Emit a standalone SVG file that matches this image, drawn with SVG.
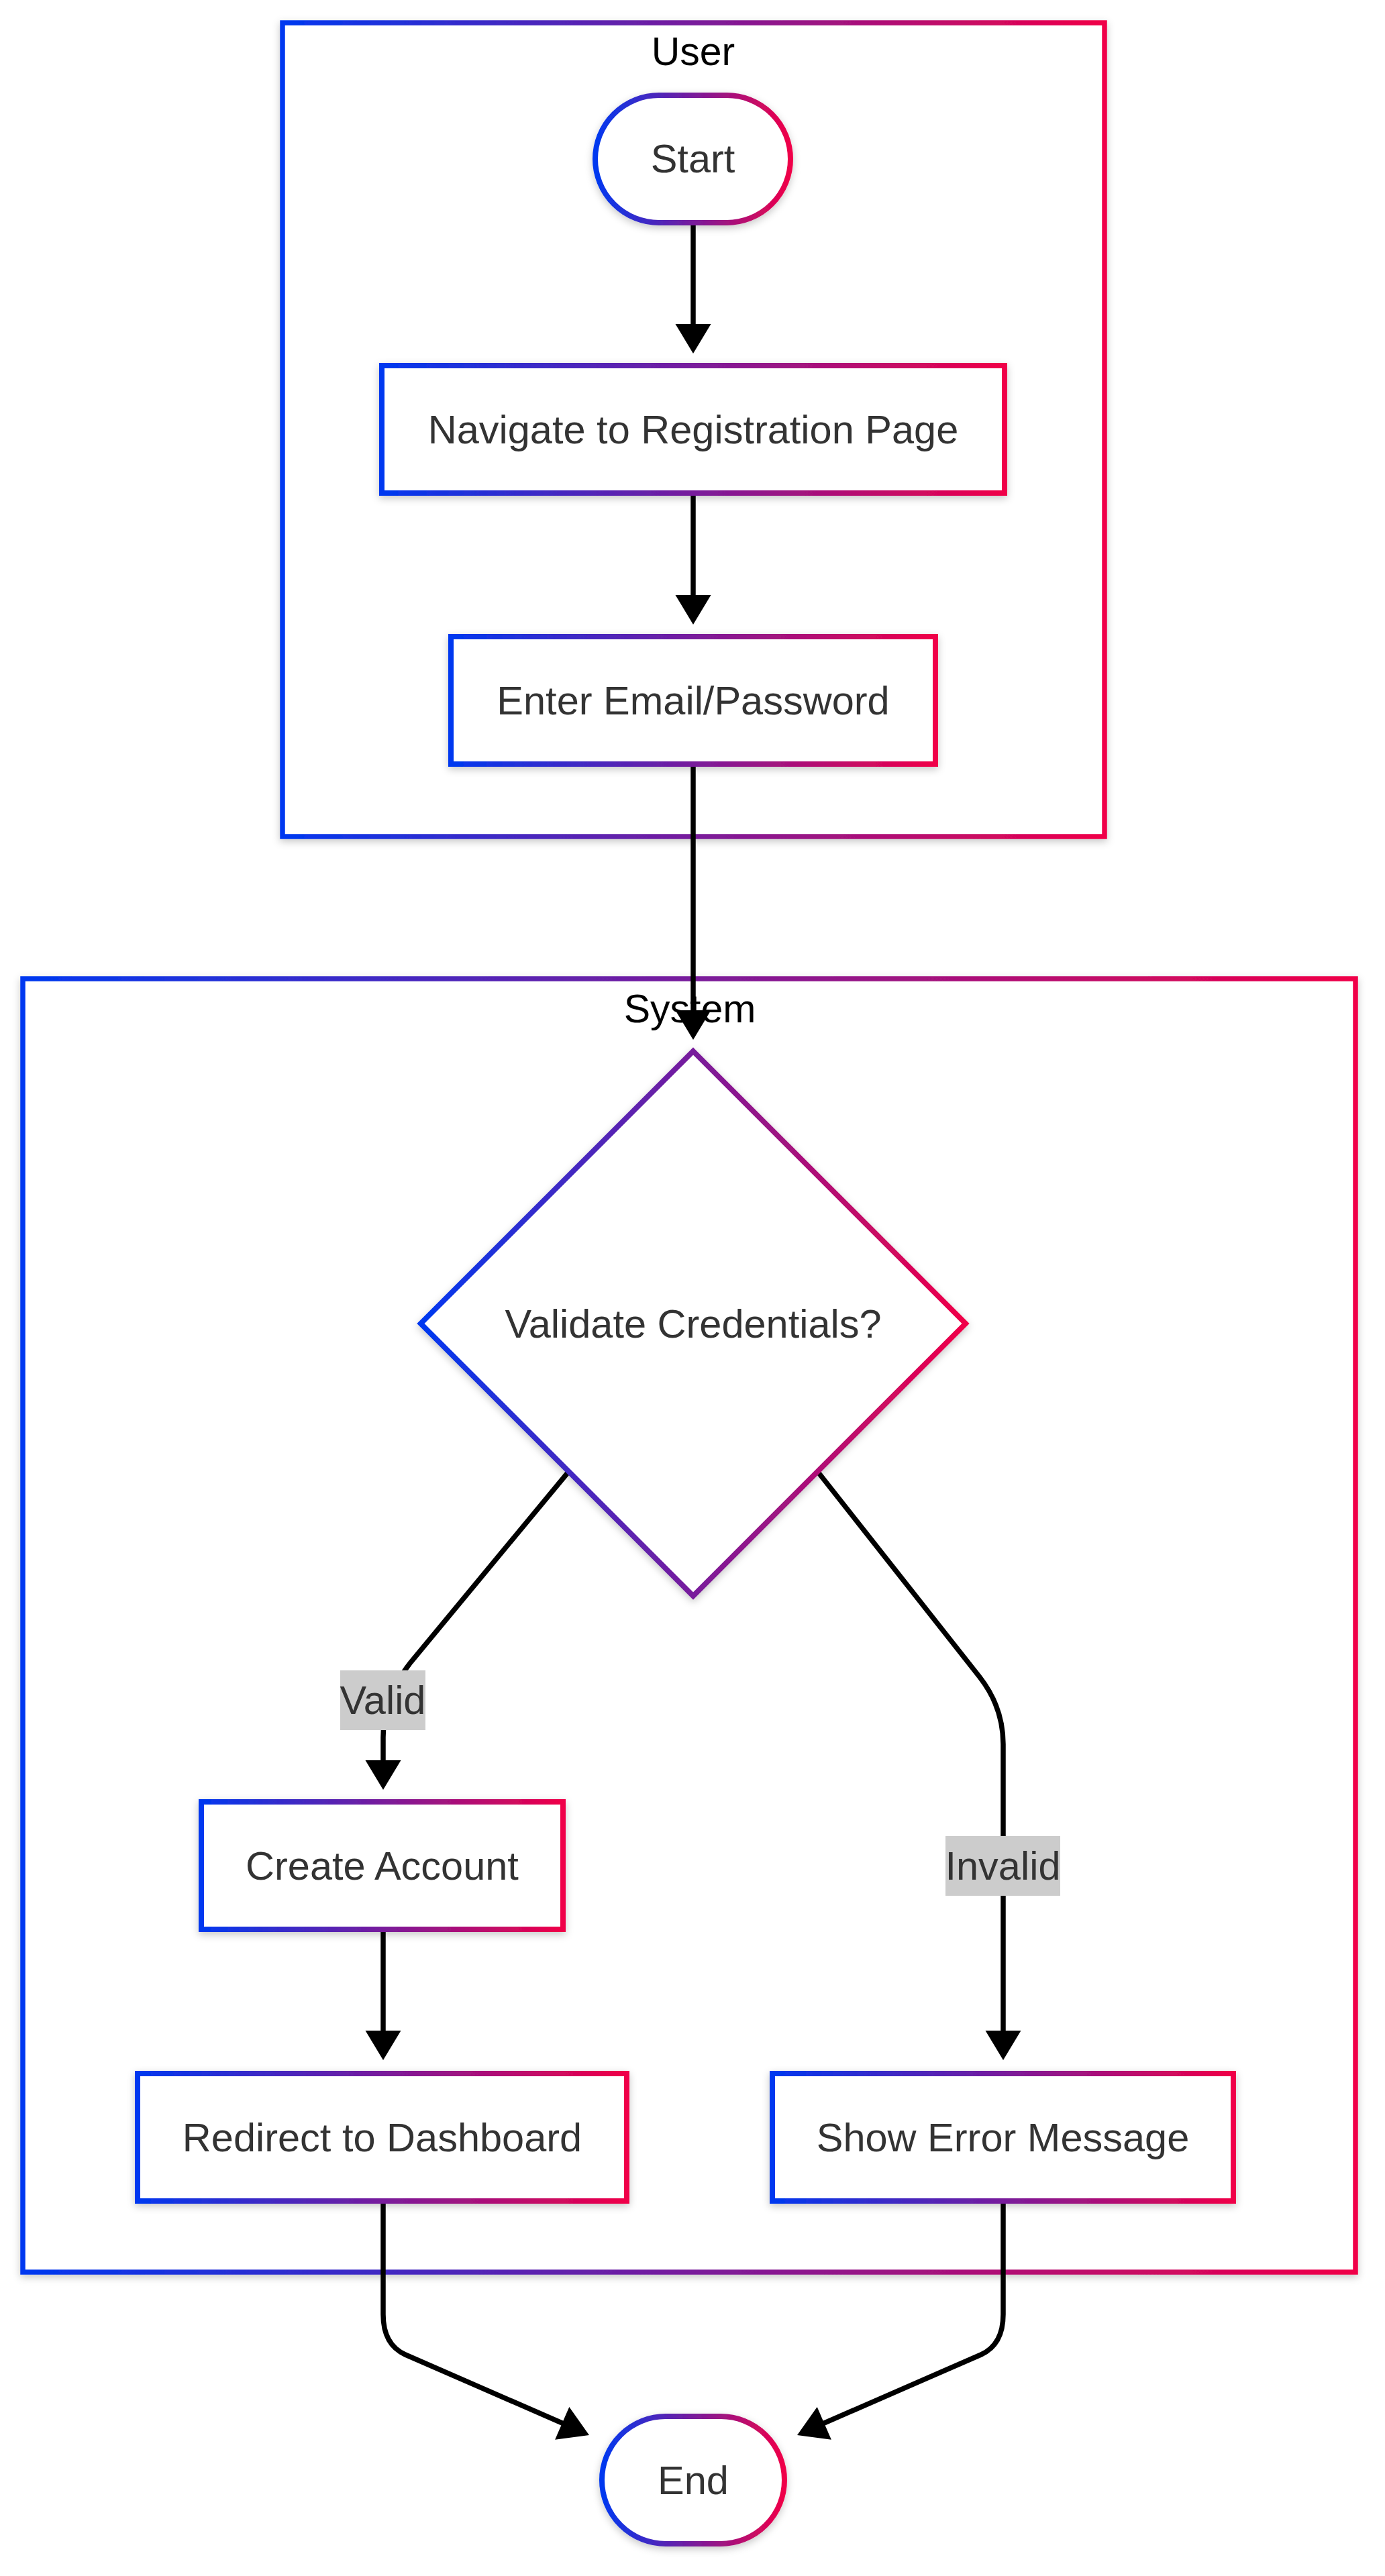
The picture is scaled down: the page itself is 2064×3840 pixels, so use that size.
<svg xmlns="http://www.w3.org/2000/svg" width="2064" height="3840" viewBox="0 0 2064 3840">
  <defs>
    <linearGradient id="grad" x1="0" y1="0" x2="1" y2="0">
      <stop offset="0" stop-color="#0038f0"/>
      <stop offset="1" stop-color="#f00048"/>
    </linearGradient>
    <filter id="shadow" x="-20%" y="-20%" width="140%" height="140%">
      <feDropShadow dx="0" dy="4" stdDeviation="6" flood-color="#000" flood-opacity="0.22"/>
    </filter>
    <style>
      .cluster { fill: #fff; stroke: url(#grad); stroke-width: 7.5; filter: url(#shadow); }
      .ctitle { font-family: "Liberation Sans", Arial, sans-serif; font-size: 59px; fill: #000; text-anchor: middle; }
      .node { fill: #fff; stroke: url(#grad); stroke-width: 8; filter: url(#shadow); }
      .label { font-family: "Liberation Sans", Arial, sans-serif; font-size: 59.5px; fill: #333; text-anchor: middle; }
      .edge { fill: none; stroke: #000; stroke-width: 7.5; }
      .head { fill: #000; stroke: none; }
      .elbg { fill: #cccccc; }
    </style>
  </defs>
  <rect width="2064" height="3840" fill="#fff"/>

  <g id="cluster-user">
    <rect class="cluster" x="421" y="34" width="1225" height="1213"/>
    <text class="ctitle" x="1033" y="97">User</text>
  </g>
  <g id="cluster-system">
    <rect class="cluster" x="34" y="1459" width="1986" height="1928"/>
    <text class="ctitle" x="1028" y="1524">System</text>
  </g>

  <g id="edges">
    <path class="edge" d="M1033,332 L1033,486"/>
    <polygon class="head" points="1033,527 1006.5,483 1059.5,483"/>
    <path class="edge" d="M1033,735 L1033,890"/>
    <polygon class="head" points="1033,931 1006.5,887 1059.5,887"/>
    <path class="edge" d="M1033,1139 L1033,1510"/>
    <polygon class="head" points="1033,1550 1006.5,1506 1059.5,1506"/>
    <path class="edge" d="M848,2193 L612,2478 Q571,2530 571,2590 L571,2628"/>
    <polygon class="head" points="571,2668 544.5,2624 597.5,2624"/>
    <path class="edge" d="M1218,2193 L1460,2500 Q1495,2545 1495,2600 L1495,3031"/>
    <polygon class="head" points="1495,3071 1468.5,3027 1521.5,3027"/>
    <path class="edge" d="M571,2876 L571,3031"/>
    <polygon class="head" points="571,3071 544.5,3027 597.5,3027"/>
    <path class="edge" d="M571,3281 L571,3450 Q571,3495 604,3510 L840,3613"/>
    <polygon class="head" points="878,3630 848.3,3588.1 827.1,3636.7"/>
    <path class="edge" d="M1495,3281 L1495,3450 Q1495,3495 1462,3510 L1226,3613"/>
    <polygon class="head" points="1188,3630 1217.7,3588.1 1238.9,3636.7"/>
  </g>

  <g id="edge-labels">
    <g id="label-valid">
      <rect class="elbg" x="507" y="2490" width="127" height="89"/>
      <text class="label" x="570.5" y="2555">Valid</text>
    </g>
    <g id="label-invalid">
      <rect class="elbg" x="1409" y="2737" width="171" height="89"/>
      <text class="label" x="1494.5" y="2802">Invalid</text>
    </g>
  </g>

  <g id="node-start">
    <rect class="node" x="887" y="142" width="291" height="190" rx="95" ry="95"/>
    <text class="label" x="1032.5" y="257">Start</text>
  </g>
  <g id="node-navigate">
    <rect class="node" x="569" y="545" width="928" height="190"/>
    <text class="label" x="1033" y="661">Navigate to Registration Page</text>
  </g>
  <g id="node-enter">
    <rect class="node" x="672" y="949" width="722" height="190"/>
    <text class="label" x="1033" y="1065">Enter Email/Password</text>
  </g>
  <g id="node-validate">
    <polygon class="node" points="1033,1567 1439,1973 1033,2379 627,1973"/>
    <text class="label" x="1033" y="1994">Validate Credentials?</text>
  </g>
  <g id="node-create">
    <rect class="node" x="300" y="2686" width="539" height="190"/>
    <text class="label" x="569.5" y="2802">Create Account</text>
  </g>
  <g id="node-redirect">
    <rect class="node" x="205" y="3091" width="729" height="190"/>
    <text class="label" x="569.5" y="3207">Redirect to Dashboard</text>
  </g>
  <g id="node-error">
    <rect class="node" x="1151" y="3091" width="687" height="190"/>
    <text class="label" x="1494.5" y="3207">Show Error Message</text>
  </g>
  <g id="node-end">
    <rect class="node" x="897" y="3602" width="272" height="190" rx="95" ry="95"/>
    <text class="label" x="1033" y="3718">End</text>
  </g>
</svg>
